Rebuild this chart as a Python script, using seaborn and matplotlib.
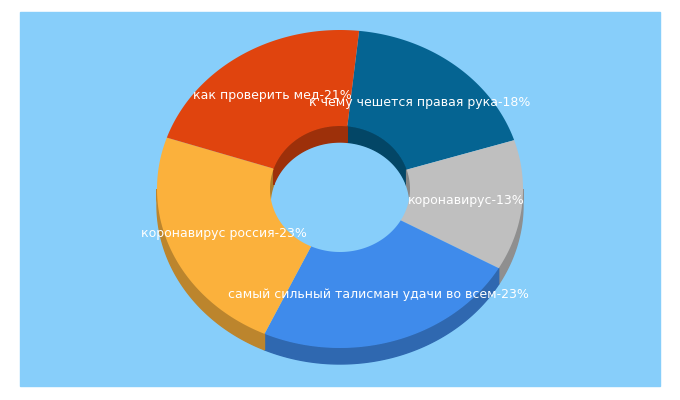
import numpy as np
import matplotlib
matplotlib.use("Agg")
import matplotlib.pyplot as plt
import seaborn as sns
from matplotlib.patches import Polygon, Rectangle
from matplotlib.colors import to_rgb

sns.set_style("white")
plt.rcParams['font.family'] = ['DejaVu Sans']

labels = ["к чему чешется правая рука", "коронавирус", "самый сильный талисман удачи во всем",
          "коронавирус россия", "как проверить мед"]
values = [18, 13, 23, 23, 21]
colors = ["#056492", "#BFBFBF", "#3F8BEB", "#FBB13C", "#E0440E"]

cx, cy = 340, 189
rxo, ryo = 183, 159
rxi, ryi = 70, 63
depth = 16
start = 84.0

fig = plt.figure(figsize=(6.8, 4.0), dpi=100)
ax = fig.add_axes([0, 0, 1, 1])
ax.set_xlim(0, 680); ax.set_ylim(400, 0); ax.axis("off")
ax.add_patch(Rectangle((20, 12), 640, 374, color="#87CEFA", zorder=0))

def pt(rx, ry, t, dy=0):
    t = np.radians(t)
    return np.column_stack([cx + rx*np.cos(t), cy - ry*np.sin(t) + dy])

def dark(c, f):
    return tuple(np.array(to_rgb(c))*f)

total = sum(values)
angles = []
a = start
for v in values:
    span = 360*v/total
    angles.append((a - span, a))
    a -= span

# inner walls (visible upper arc of hole)
for (a0, a1), c in zip(angles, colors):
    for lo, hi in [(a0, a1), (a0+360, a1+360), (a0-360, a1-360)]:
        l, h = max(lo, 0), min(hi, 180)
        if h > l:
            t = np.linspace(l, h, 60)
            poly = np.vstack([pt(rxi, ryi, t), pt(rxi, ryi, t[::-1], depth)])
            ax.add_patch(Polygon(poly, color=dark(c, 0.7), zorder=1))
# outer walls (lower half)
for (a0, a1), c in zip(angles, colors):
    for lo, hi in [(a0, a1), (a0+360, a1+360), (a0-360, a1-360)]:
        l, h = max(lo, 180), min(hi, 360)
        if h > l:
            t = np.linspace(l, h, 80)
            poly = np.vstack([pt(rxo, ryo, t), pt(rxo, ryo, t[::-1], depth)])
            ax.add_patch(Polygon(poly, color=dark(c, 0.75), zorder=1))
# top faces
for (a0, a1), c in zip(angles, colors):
    t = np.linspace(a0, a1, 120)
    poly = np.vstack([pt(rxo, ryo, t), pt(rxi, ryi, t[::-1])])
    ax.add_patch(Polygon(poly, color=c, zorder=2, lw=0))

for (a0, a1), lab, v in zip(angles, labels, values):
    m = np.radians((a0+a1)/2)
    x = cx + (rxo+rxi)/2*np.cos(m)
    y = cy - (ryo+ryi)/2*np.sin(m)
    ax.text(x, y, f"{lab}-{v}%", color="white", fontsize=9, ha="center", va="center", zorder=3)

fig.savefig("out.png", dpi=100)
